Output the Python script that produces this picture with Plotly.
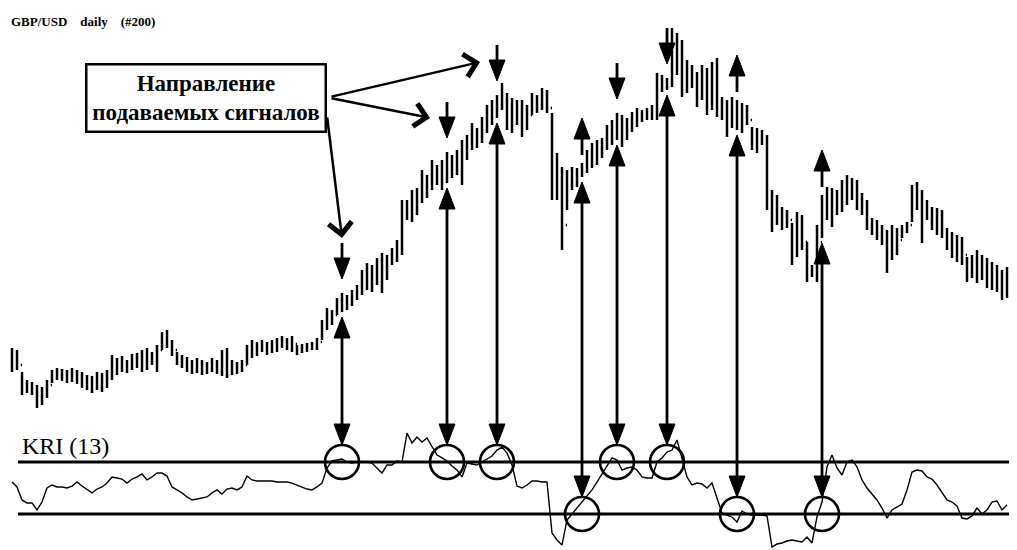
import plotly.graph_objects as go

# ---------------- data ----------------
title_text = "GBP/USD\u00a0\u00a0\u00a0 daily\u00a0\u00a0\u00a0 (#200)"
callout_text = "Направление<br>подаваемых сигналов"
kri_label = "KRI (13)"

# daily bars, price in points (arbitrary base)
high = [72, 70, 48, 40, 38, 35, 33, 40, 50, 52,
        51, 50, 52, 50, 48, 45, 44, 48, 47, 50,
        65, 62, 64, 60, 66, 67, 70, 72, 68, 75,
        88, 90, 80, 68, 65, 63, 60, 62, 60, 58,
        62, 60, 70, 72, 60, 58, 60, 75, 80, 78,
        80, 78, 80, 82, 84, 82, 84, 75, 76, 77,
        78, 82, 100, 112, 110, 122, 127, 125, 130, 135,
        150, 157, 155, 162, 167, 165, 172, 180, 220, 220,
        230, 232, 250, 245, 260, 255, 260, 268, 265, 270,
        280, 285, 297, 292, 303, 315, 320, 325, 337, 327,
        322, 320, 320, 315, 327, 325, 332, 330, 307, 267,
        253, 250, 253, 252, 257, 270, 277, 280, 282, 295,
        300, 307, 305, 302, 308, 312, 310, 312, 315, 347,
        345, 342, 392, 387, 380, 360, 355, 348, 355, 352,
        358, 362, 323, 320, 323, 320, 317, 315, 293, 292,
        290, 285, 230, 225, 213, 210, 197, 208, 205, 178,
        155, 195, 225, 233, 232, 230, 240, 245, 242, 240,
        227, 220, 202, 200, 195, 190, 195, 192, 195, 198,
        235, 238, 230, 220, 213, 212, 210, 192, 188, 185,
        183, 163, 165, 170, 165, 162, 158, 155, 150, 153]
low = [48, 50, 25, 27, 25, 12, 15, 22, 37, 40,
       39, 37, 38, 36, 32, 30, 27, 30, 28, 32,
       40, 45, 48, 47, 50, 52, 48, 50, 55, 48,
       70, 72, 64, 55, 52, 48, 46, 47, 45, 46,
       48, 46, 44, 42, 45, 46, 48, 55, 62, 64,
       68, 65, 67, 68, 72, 70, 68, 65, 67, 68,
       70, 70, 80, 90, 95, 105, 108, 110, 114, 120,
       125, 130, 128, 135, 127, 140, 155, 158, 165, 200,
       198, 205, 217, 222, 230, 235, 230, 237, 242, 245,
       235, 260, 270, 272, 277, 287, 295, 302, 310, 290,
       287, 295, 283, 290, 305, 307, 310, 307, 220, 220,
       170, 210, 230, 233, 243, 247, 252, 255, 262, 270,
       275, 280, 273, 280, 288, 293, 298, 300, 300, 300,
       328, 330, 333, 345, 323, 327, 332, 313, 320, 305,
       310, 303, 300, 283, 292, 290, 287, 295, 270, 267,
       275, 210, 188, 195, 190, 192, 155, 163, 170, 138,
       143, 138, 182, 200, 193, 205, 208, 215, 220, 210,
       205, 190, 185, 180, 175, 147, 160, 165, 182, 187,
       198, 210, 177, 200, 190, 185, 182, 170, 162, 158,
       155, 138, 142, 137, 140, 132, 130, 128, 120, 122]
close = [60, 55, 35, 32, 30, 22, 28, 35, 45, 47,
         44, 45, 46, 42, 38, 36, 38, 42, 40, 45,
         58, 52, 58, 54, 60, 62, 60, 64, 62, 70,
         82, 78, 70, 60, 58, 55, 52, 55, 52, 52,
         55, 50, 62, 58, 50, 52, 55, 68, 72, 70,
         74, 72, 74, 76, 78, 75, 76, 70, 72, 74,
         75, 78, 92, 100, 105, 115, 118, 120, 125, 128,
         140, 145, 142, 150, 155, 158, 165, 172, 210, 210,
         220, 222, 235, 232, 245, 245, 250, 255, 255, 262,
         270, 275, 285, 282, 295, 305, 312, 318, 320, 305,
         310, 305, 300, 305, 318, 315, 322, 312, 240, 235,
         195, 235, 242, 245, 250, 260, 265, 272, 275, 285,
         290, 295, 290, 295, 300, 305, 305, 308, 310, 335,
         335, 338, 370, 360, 345, 345, 340, 330, 340, 325,
         340, 315, 310, 300, 305, 305, 300, 300, 280, 278,
         282, 220, 200, 205, 200, 200, 168, 185, 178, 150,
         148, 178, 210, 215, 220, 215, 225, 235, 230, 220,
         212, 200, 192, 188, 182, 165, 175, 180, 188, 195,
         220, 222, 205, 208, 200, 198, 190, 180, 175, 170,
         165, 150, 155, 150, 152, 145, 142, 140, 135, 140]

# KRI(13) indicator, %
kri = [0.46, 0.08, -0.92, -1.15, -1.15, -1.69, -1.08, 0.00, 0.23, 0.08,
       0.08, 0.00, 0.15, 0.46, 0.15, -0.15, -0.38, -0.08, 0.08, 0.38,
       0.85, 0.77, 0.69, 0.38, 0.69, 0.85, 1.08, 0.62, 0.85, 1.15,
       1.15, 0.92, 0.08, -0.15, -0.38, -0.69, -0.92, -0.85, -0.77, -0.69,
       -0.38, -0.15, -0.46, -0.08, 0.00, -0.15, 0.08, 0.92, 0.62, 0.54,
       0.54, 0.54, 0.54, 0.46, 0.46, 0.46, 0.38, 0.23, 0.08, -0.08,
       -0.15, 0.08, 0.38, 1.54, 2.08, 2.15, 2.23, 2.00, 1.92, 2.00,
       2.00, 2.00, 1.92, 1.54, 1.15, 1.77, 1.77, 2.08, 2.00, 4.23,
       3.46, 3.92, 3.54, 3.85, 3.15, 2.54, 2.31, 2.08, 1.69, 1.38,
       0.85, 1.92, 1.85, 1.77, 2.00, 2.23, 2.46, 2.92, 3.15, 2.69,
       1.77, 0.15, 0.00, 0.23, 0.54, 0.54, 0.46, 0.46, -3.46, -4.00,
       -4.38, -2.46, -2.00, -1.54, -1.00, -0.54, -0.15, 0.46, 1.08, 1.77,
       2.31, 2.15, 1.38, 1.54, 1.62, 1.38, 0.85, 0.77, 0.77, 2.00,
       2.31, 2.77, 2.92, 3.69, 2.31, 0.85, 0.23, 0.38, 0.31, 0.00,
       0.38, -0.69, -1.92, -2.08, -2.23, -2.62, -1.77, -2.00, -2.08, -2.08,
       -2.08, -2.15, -4.54, -4.31, -4.23, -4.08, -4.00, -4.08, -4.15, -3.77,
       -4.23, -2.23, -1.08, 1.62, 2.54, 1.54, 1.00, 2.00, 2.15, 1.62,
       0.62, 0.00, -0.46, -0.92, -1.54, -2.31, -1.69, -1.46, -1.23, -0.15,
       1.23, 1.38, 1.31, 0.85, 0.69, 0.23, -0.31, -0.92, -1.08, -1.38,
       -2.31, -2.38, -2.15, -1.54, -2.00, -1.69, -1.08, -1.00, -1.69, -1.31]

kri_upper = 2.0
kri_lower = -2.0

signal_bars = [66, 87, 97, 114, 121, 131, 145, 162]
signal_zone = ["upper", "upper", "upper", "lower", "upper", "upper", "lower", "lower"]
sell_marks = [66, 87, 97, 121, 131]
buy_marks = [114, 145, 162]
callout_targets = [97, 87, 66]

bars = list(range(len(high)))
open_ = [close[0]] + close[:-1]

# ---------------- layout geometry ----------------
# the page body has an 8px margin, so the figure is sized to fit the window
PAGE_OFF = 8
W, H = 1017 - PAGE_OFF, 550 - PAGE_OFF
X_RANGE = [-0.8, -0.8 + W / 5]
P_RANGE = [-130.0, 412.0]
K_RANGE = [-62 / 13, 480 / 13]


def px_x(X):      # page pixel -> paper x
    return (X - PAGE_OFF) / W


def px_y(Y):      # page pixel -> paper y
    return 1 - (Y - PAGE_OFF) / H


def dx(px):
    return px * (X_RANGE[1] - X_RANGE[0]) / W


def dp(px):
    return px * (P_RANGE[1] - P_RANGE[0]) / H


def dk(px):
    return px * (K_RANGE[1] - K_RANGE[0]) / H


def k_to_p(k):
    return P_RANGE[0] + (k - K_RANGE[0]) / (K_RANGE[1] - K_RANGE[0]) * (P_RANGE[1] - P_RANGE[0])


LW = 2.8
shapes = []


def triangle(x, tip, up, yref, dyf):
    half = dx(8)
    h = dyf(21)
    base = tip - h if up else tip + h
    shapes.append(dict(type="path", xref="x", yref=yref,
                       path=f"M {x - half},{base} L {x + half},{base} L {x},{tip} Z",
                       fillcolor="black", line=dict(color="black", width=1)))
    return base


def vline(x, y0, y1, yref):
    shapes.append(dict(type="line", xref="x", yref=yref, x0=x, x1=x, y0=y0, y1=y1,
                       line=dict(color="black", width=LW)))


# threshold lines of KRI
for lvl in (kri_upper, kri_lower):
    shapes.append(dict(type="line", xref="paper", yref="y2", x0=px_x(18), x1=1, y0=lvl, y1=lvl,
                       line=dict(color="black", width=3)))

# small sell arrows above price
sell_tip = {}
for i in sell_marks:
    tip = high[i] + dp(14)
    base = triangle(i, tip, False, "y", dp)
    vline(i, base, base + dp(15), "y")
    sell_tip[i] = tip

# small buy arrows above price
for i in buy_marks:
    bottom = high[i] + dp(8)
    vline(i, bottom, bottom + dp(16), "y")
    triangle(i, bottom + dp(37), True, "y", dp)

# connectors price -> KRI circles
R_PX = 17
for i, zone in zip(signal_bars, signal_zone):
    thr = kri_upper if zone == "upper" else kri_lower
    tip_up = low[i] - dp(5)
    base_up = triangle(i, tip_up, True, "y", dp)
    k_tip = thr + dk(R_PX)
    k_base = triangle(i, k_tip, False, "y2", dk)
    vline(i, base_up, k_to_p(k_base), "y")
    shapes.append(dict(type="circle", xref="x", yref="y2",
                       x0=i - dx(R_PX), x1=i + dx(R_PX), y0=thr - dk(R_PX), y1=thr + dk(R_PX),
                       line=dict(color="black", width=2.6), fillcolor="rgba(0,0,0,0)"))

# ---------------- figure ----------------
fig = go.Figure()
fig.add_trace(go.Ohlc(x=bars, open=open_, high=high, low=low, close=close,
                      increasing=dict(line=dict(color="black", width=2.5)),
                      decreasing=dict(line=dict(color="black", width=2.5)),
                      tickwidth=0.25, hoverinfo="none", showlegend=False))
fig.add_trace(go.Scatter(x=bars, y=kri, yaxis="y2", mode="lines",
                         line=dict(color="black", width=1.4), hoverinfo="skip", showlegend=False))

serif = "Liberation Serif, Times New Roman, serif"
annotations = [
    dict(text=title_text, xref="paper", yref="paper", x=px_x(9), y=px_y(21),
         xanchor="left", yanchor="middle", showarrow=False,
         font=dict(family=serif, size=13, color="black", weight="bold")),
    dict(text=callout_text, xref="paper", yref="paper", x=px_x(206), y=px_y(98),
         xanchor="center", yanchor="middle", showarrow=False,
         width=237, height=65, borderpad=0, borderwidth=2.5, bordercolor="black",
         bgcolor="white", font=dict(family=serif, size=23, color="black", weight="bold")),
    dict(text=kri_label, xref="paper", yref="y2", x=px_x(20), y=kri_upper,
         xanchor="left", yanchor="bottom", yshift=1, showarrow=False,
         font=dict(family=serif, size=24, color="black")),
]

# pointers from the callout box: (bar, shift left px, above arrow tip px, tail dx, tail dy)
pointer_geom = {97: (17, 19, -150, 35), 87: (17, 20, -100, -20), 66: (0, 41, -15, -122)}
for i in callout_targets:
    sx, sy, ax, ay = pointer_geom[i]
    annotations.append(dict(x=i - dx(sx), y=sell_tip[i] + dp(sy), xref="x", yref="y",
                            ax=ax, ay=ay, axref="pixel", ayref="pixel", text="",
                            showarrow=True, arrowhead=4, arrowsize=1.8, arrowwidth=2.5,
                            arrowcolor="black"))

fig.update_layout(
    width=W, height=H, autosize=False,
    margin=dict(l=0, r=0, t=0, b=0),
    paper_bgcolor="white", plot_bgcolor="white",
    xaxis=dict(range=X_RANGE, visible=False, rangeslider=dict(visible=False), fixedrange=True),
    yaxis=dict(range=P_RANGE, visible=False, fixedrange=True),
    yaxis2=dict(range=K_RANGE, overlaying="y", visible=False, fixedrange=True),
    shapes=shapes, annotations=annotations, showlegend=False,
)

fig.write_html("out.html")
